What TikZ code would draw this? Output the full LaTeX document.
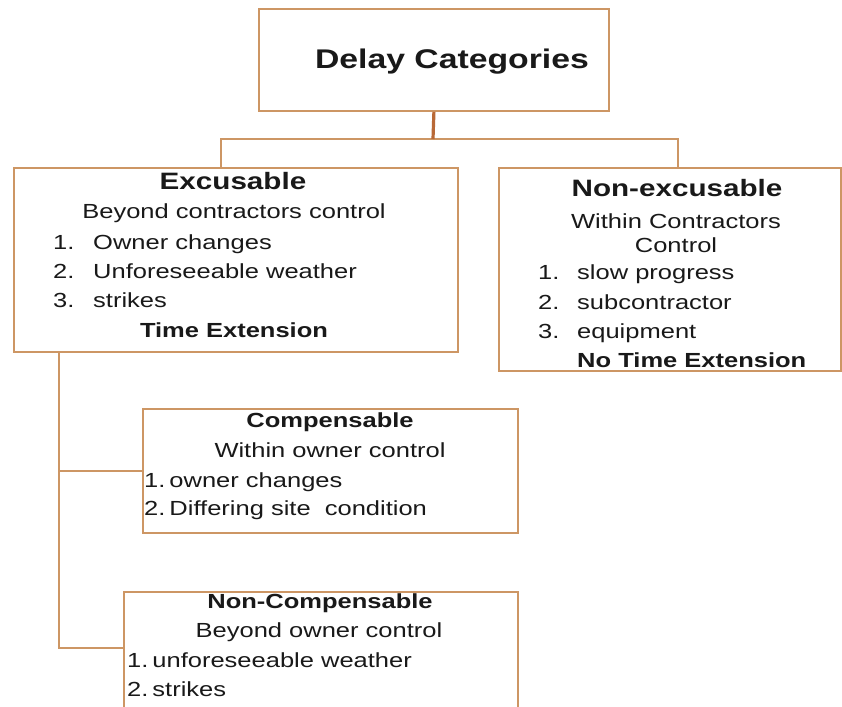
\documentclass[tikz,border=0pt]{standalone}
\usepackage{fontspec}
\setmainfont{Liberation Sans}[FakeStretch=1.25]
\definecolor{boxc}{RGB}{205,150,100}
\definecolor{stemc}{RGB}{185,105,55}
\definecolor{txtc}{RGB}{25,25,25}
\begin{document}
\begin{tikzpicture}[x=1pt,y=-1pt,
  box/.style={draw=boxc, line width=1.8pt, rectangle, inner sep=0pt, anchor=north west},
  link/.style={draw=boxc, line width=1.8pt},
  stem/.style={draw=stemc, line width=3.2pt},
  txt/.style={inner sep=0pt, text=txtc, font=\fontsize{20.4}{24}\selectfont},
  bt/.style={txt, font=\bfseries\fontsize{20.4}{24}\selectfont},
  hd/.style={txt, font=\bfseries\fontsize{23.7}{28}\selectfont},
  ttl/.style={txt, font=\bfseries\fontsize{27}{32}\selectfont}]
\clip (0,0) rectangle (842,706);
\fill[white] (0,0) rectangle (842,706);

% boxes
\node[box, minimum width=350pt, minimum height=102pt] (top) at (258,8) {};
\node[box, minimum width=444pt, minimum height=184pt] (exc) at (13,167) {};
\node[box, minimum width=342pt, minimum height=203pt] (nex) at (498,167) {};
\node[box, minimum width=375pt, minimum height=124pt] (comp) at (142,408) {};
\node[box, minimum width=394pt, minimum height=130pt] (ncomp) at (123,591) {};

% connectors
\coordinate (bus) at (433,139);
\draw[link] ([xshift=-15pt]exc.north) |- (bus) -| ([xshift=8pt]nex.north);
\draw[stem] (top.south) -- (bus);
\coordinate (trunk) at ([xshift=-177pt]exc.south);
\draw[link] (trunk) |- ([yshift=9pt]ncomp.west);
\draw[link] (comp.west) -- (comp.west -| trunk);

% title
\node[ttl, anchor=base] (t0) at (452,69) {Delay Categories};

% excusable
\node[hd, anchor=base] (e0) at (233,189) {Excusable};
\node[txt, anchor=base] (e1) at (234,218) {Beyond contractors control};
\node[txt, anchor=base west] (e2n) at (53,249) {1.};
\node[txt, anchor=base west] (e2) at (93,249) {Owner changes};
\node[txt, anchor=base west] (e3n) at (53,278) {2.};
\node[txt, anchor=base west] (e3) at (93,278) {Unforeseeable weather};
\node[txt, anchor=base west] (e4n) at (53,307) {3.};
\node[txt, anchor=base west] (e4) at (93,307) {strikes};
\node[bt, anchor=base] (e5) at (234,337) {Time Extension};

% non-excusable
\node[hd, anchor=base] (n0) at (677,196) {Non-excusable};
\node[txt, anchor=base] (n1) at (676,228) {Within Contractors};
\node[txt, anchor=base] (n2) at (676,252) {Control};
\node[txt, anchor=base west] (n3n) at (538,279) {1.};
\node[txt, anchor=base west] (n3) at (577,279) {slow progress};
\node[txt, anchor=base west] (n4n) at (538,309) {2.};
\node[txt, anchor=base west] (n4) at (577,309) {subcontractor};
\node[txt, anchor=base west] (n5n) at (538,338) {3.};
\node[txt, anchor=base west] (n5) at (577,338) {equipment};
\node[bt, anchor=base west] (n6) at (577,367) {No Time Extension};

% compensable
\node[bt, anchor=base] (c0) at (330,427) {Compensable};
\node[txt, anchor=base] (c1) at (330,457) {Within owner control};
\node[txt, anchor=base west] (c2) at (144,487) {1.\kern4pt owner changes};
\node[txt, anchor=base west] (c3) at (144,515) {2.\kern4pt Differing site\ \ condition};

% non-compensable
\node[bt, anchor=base] (k0) at (320,608) {Non-Compensable};
\node[txt, anchor=base] (k1) at (319,637) {Beyond owner control};
\node[txt, anchor=base west] (k2) at (127,667) {1.\kern4pt unforeseeable weather};
\node[txt, anchor=base west] (k3) at (127,696) {2.\kern4pt strikes};
\end{tikzpicture}
\end{document}
